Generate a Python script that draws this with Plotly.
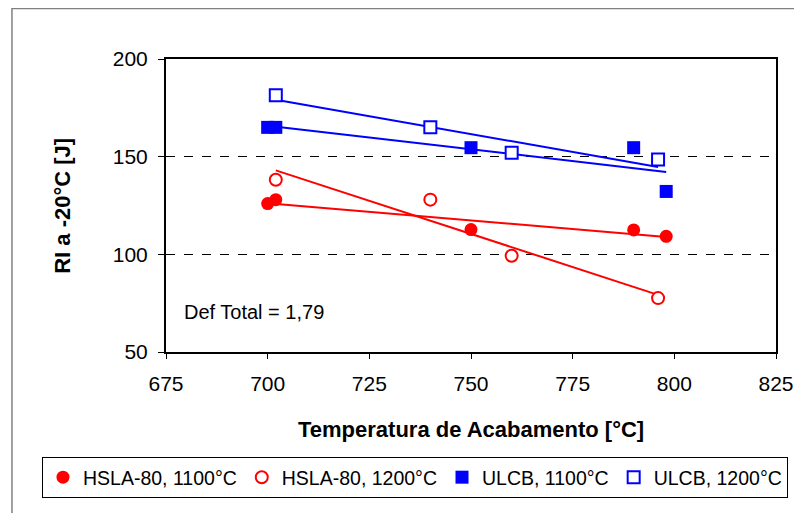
import numpy as np
import plotly.graph_objects as go

# Data
hsla_1100_x = [700, 702, 750, 790, 798]
hsla_1100_y = [126.0, 128.0, 112.7, 112.5, 109.2]
hsla_1200_x = [702, 740, 760, 796]
hsla_1200_y = [138.2, 128.0, 99.3, 77.6]
ulcb_1100_x = [700, 702, 750, 790, 798]
ulcb_1100_y = [165.0, 165.0, 154.6, 154.6, 132.2]
ulcb_1200_x = [702, 740, 760, 796]
ulcb_1200_y = [181.5, 165.0, 152.0, 148.5]

series_names = ["HSLA-80, 1100°C", "HSLA-80, 1200°C", "ULCB, 1100°C", "ULCB, 1200°C"]
x_ticks = [675, 700, 725, 750, 775, 800, 825]
y_ticks = [50, 100, 150, 200]

RED = "#FF0000"
BLUE = "#0000FF"
FONT = "Liberation Sans, Arial, sans-serif"

series = [
    (hsla_1100_x, hsla_1100_y, series_names[0], RED, "circle", True),
    (hsla_1200_x, hsla_1200_y, series_names[1], RED, "circle-open", False),
    (ulcb_1100_x, ulcb_1100_y, series_names[2], BLUE, "square", True),
    (ulcb_1200_x, ulcb_1200_y, series_names[3], BLUE, "square-open", False),
]

fig = go.Figure()

# Linear trend lines (least-squares fits of each series)
for xs, ys, name, col, sym, filled in series:
    xa = np.array(xs, dtype=float)
    ya = np.array(ys, dtype=float)
    k, b = np.polyfit(xa, ya, 1)
    xl = np.array([xa.min(), xa.max()])
    fig.add_trace(go.Scatter(x=xl, y=k * xl + b, mode="lines",
                             line=dict(color=col, width=2),
                             showlegend=False, hoverinfo="skip"))

# Markers
for xs, ys, name, col, sym, filled in series:
    base = sym.replace("-open", "")
    if filled:
        marker = dict(symbol=base, color=col, size=13, line=dict(width=0))
    else:
        marker = dict(symbol=base, color="white", size=12,
                      line=dict(color=col, width=2))
    fig.add_trace(go.Scatter(x=xs, y=ys, mode="markers", name=name, marker=marker))

fig.update_layout(
    width=794, height=505,
    margin=dict(l=158, r=26, t=51, b=161, autoexpand=False),
    paper_bgcolor="white", plot_bgcolor="white",
    font=dict(family=FONT, size=21, color="black"),
    showlegend=True,
    legend=dict(orientation="h", x=-0.2033, xanchor="left", y=-0.3584, yanchor="top",
                bordercolor="black", borderwidth=1, bgcolor="white",
                font=dict(family=FONT, size=19.5, color="black"),
                itemwidth=30, tracegroupgap=0),
    xaxis=dict(range=[675, 825], tickvals=x_ticks, ticktext=[str(v) for v in x_ticks],
               showgrid=False, zeroline=False, showline=True, linecolor="black",
               linewidth=2, mirror=True, ticks="outside", ticklen=5, tickwidth=1,
               tickcolor="black", ticklabelstandoff=7,
               tickfont=dict(family=FONT, size=21, color="black")),
    yaxis=dict(range=[50, 200], tickvals=y_ticks, ticktext=[str(v) for v in y_ticks],
               showgrid=True, gridcolor="black", gridwidth=1, griddash="dash",
               zeroline=False, showline=True, linecolor="black", linewidth=2,
               mirror=True, ticks="outside", ticklen=6, tickwidth=1,
               tickcolor="black", ticklabelstandoff=6,
               tickfont=dict(family=FONT, size=21, color="black")),
    annotations=[
        dict(text="<b>Temperatura de Acabamento [°C]</b>", xref="paper", yref="paper",
             x=0.5, y=-0.263, xanchor="center", yanchor="middle", showarrow=False,
             font=dict(family=FONT, size=22, color="black")),
        dict(text="<b>RI a -20°C [J]</b>", xref="paper", yref="paper",
             x=-0.17, y=0.5, xanchor="center", yanchor="middle", textangle=-90,
             showarrow=False, font=dict(family=FONT, size=22, color="black")),
        dict(text="Def Total = 1,79", xref="x", yref="y", x=679.0, y=70.6,
             xanchor="left", yanchor="middle", showarrow=False,
             font=dict(family=FONT, size=20, color="black")),
    ],
    shapes=[
        dict(type="rect", xref="paper", yref="paper",
             x0=-0.2525, x1=1.08, y0=-0.62, y1=1.1724,
             line=dict(color="#808080", width=1.5), fillcolor="rgba(0,0,0,0)",
             layer="below"),
    ],
)

fig.write_html("out.html")
